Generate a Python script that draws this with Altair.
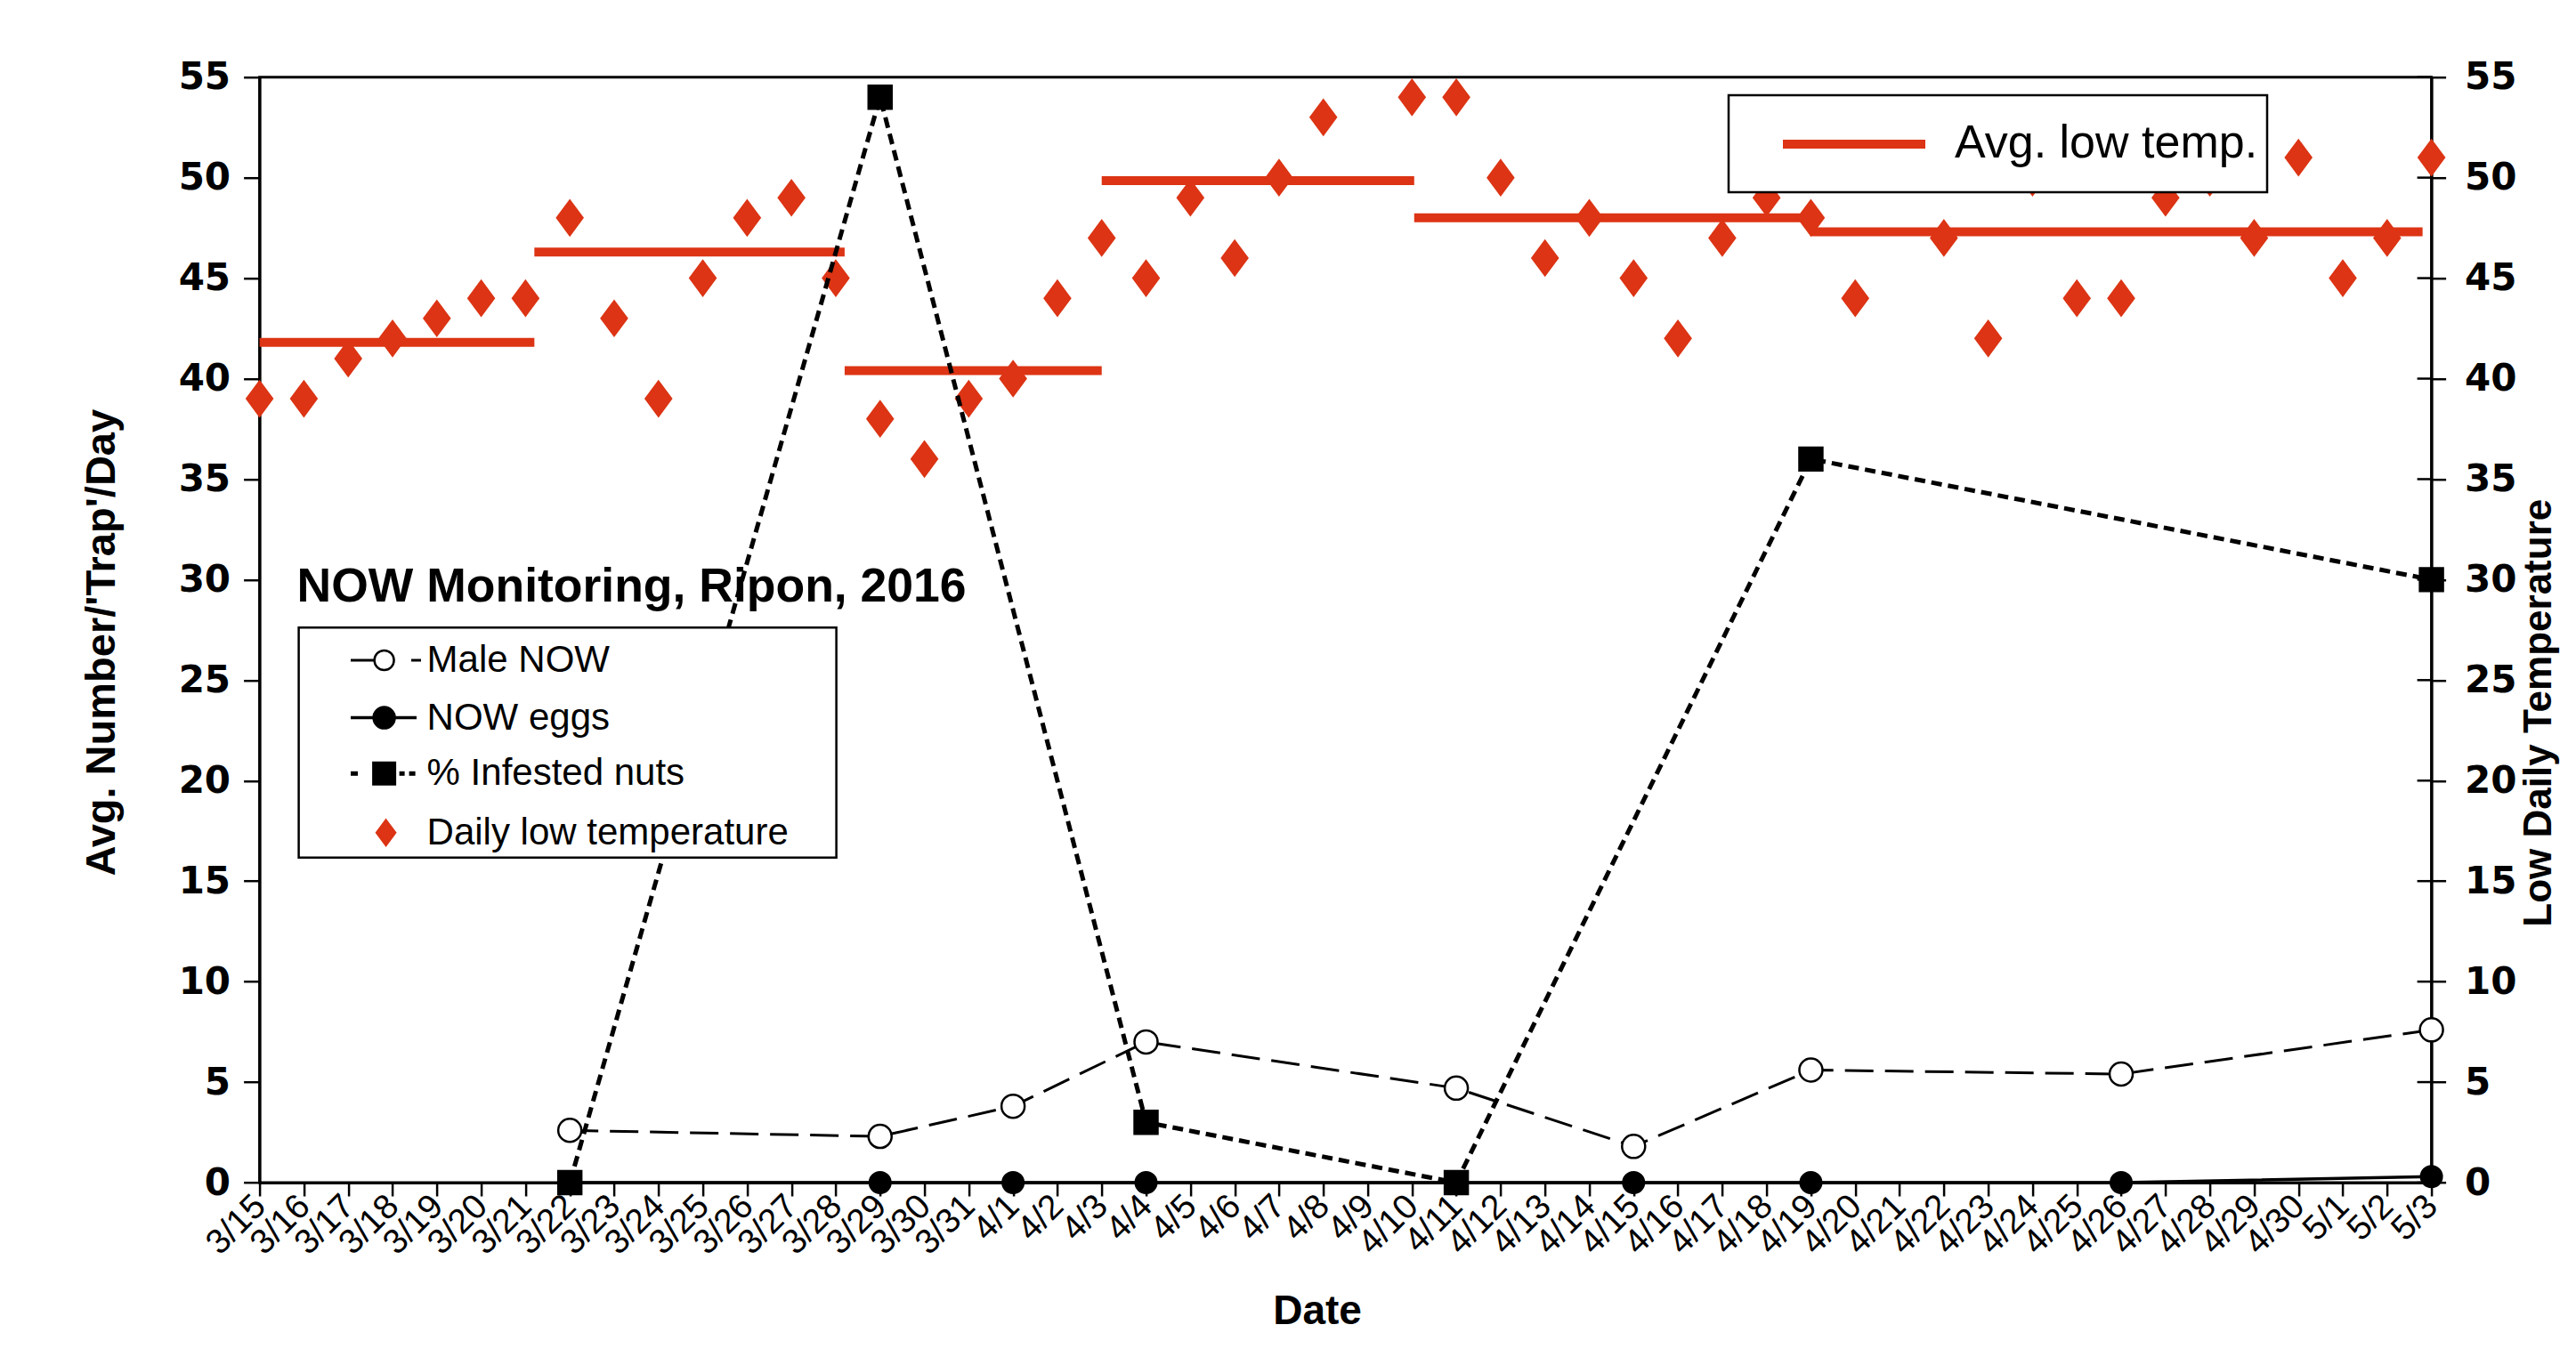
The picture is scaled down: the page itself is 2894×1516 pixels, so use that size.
import altair as alt
import pandas as pd

# ---------------- data ----------------
dates = ['3/15', '3/16', '3/17', '3/18', '3/19', '3/20', '3/21', '3/22', '3/23', '3/24',
         '3/25', '3/26', '3/27', '3/28', '3/29', '3/30', '3/31',
         '4/1', '4/2', '4/3', '4/4', '4/5', '4/6', '4/7', '4/8', '4/9', '4/10',
         '4/11', '4/12', '4/13', '4/14', '4/15', '4/16', '4/17', '4/18', '4/19', '4/20',
         '4/21', '4/22', '4/23', '4/24', '4/25', '4/26', '4/27', '4/28', '4/29', '4/30',
         '5/1', '5/2', '5/3']
daily_low = [39, 39, 41, 42, 43, 44, 44, 48, 43, 39, 45, 48, 49, 45, 38, 36, 39,
             40, 44, 47, 45, 49, 46, 50, 53, None, 54, 54, 50, 46, 48, 45, 42, 47, 49, 48,
             44, 51, 47, 42, 50, 44, 44, 49, 50, 47, 51,
             45, 47, 51]

sample_dates = ['3/22', '3/29', '4/1', '4/4', '4/11', '4/15', '4/19', '4/26', '5/3']
male_now = [2.6, 2.3, 3.8, 7.0, 4.7, 1.8, 5.6, 5.4, 7.6]
now_eggs = [0, 0, 0, 0, 0, 0, 0, 0, 0.3]

nut_dates = ['3/22', '3/29', '4/4', '4/11', '4/19', '5/3']
infested = [0, 54, 3, 0, 36, 30]

# average low temperature periods (start / end in days from 3/15)
avg_start = [0, 6.2, 13.2, 19.0, 26.05, 35.0]
avg_end = [6.2, 13.2, 19.0, 26.05, 35.0, 48.8]
avg_low = [41.8, 46.3, 40.4, 49.85, 48.0, 47.3]

y_ticks = [0, 5, 10, 15, 20, 25, 30, 35, 40, 45, 50, 55]

# ---------------- tables ----------------
day = {d: i for i, d in enumerate(dates)}
temp_df = pd.DataFrame({'day': list(range(len(dates))), 'value': daily_low}).dropna()
male_df = pd.DataFrame({'day': [day[d] for d in sample_dates], 'value': male_now})
eggs_df = pd.DataFrame({'day': [day[d] for d in sample_dates], 'value': now_eggs})
nuts_df = pd.DataFrame({'day': [day[d] for d in nut_dates], 'value': infested})
avg_df = pd.DataFrame({'day': avg_start, 'day2': avg_end, 'value': avg_low})
tick_df = pd.DataFrame({'value': y_ticks})
one = pd.DataFrame({'k': [0]})

# ---------------- styling ----------------
W, H = 2440, 1242.3
RED = '#dc3414'
DIAMOND = 'M0,-1.35L1,0L0,1.35L-1,0Z'
SANS = 'Liberation Sans'

label_expr = '[' + ','.join("'%s'" % d for d in dates) + '][datum.value]'
x_axis = alt.Axis(values=list(range(len(dates))), labelExpr=label_expr,
                  labelAngle=315, labelAlign='right', labelBaseline='middle',
                  labelFont=SANS, labelFontSize=39, labelPadding=5,
                  labelOverlap=False, labelFlush=False, tickSize=15,
                  title='Date', titleFont=SANS, titleFontSize=46, titleFontWeight='bold',
                  titleX=1188, titleY=158, titleBaseline='alphabetic', titleAlign='center',
                  grid=False)
x_scale = alt.Scale(domain=[0, len(dates) - 1], nice=False, zero=False)


def X(field='day'):
    return alt.X(field + ':Q', scale=x_scale, axis=x_axis)


y_scale = alt.Scale(domain=[0, 55], nice=False)
left_axis = alt.Axis(orient='left', values=y_ticks, labelFont='DejaVu Sans', labelFontWeight='bold',
                     labelFontSize=42, labelPadding=15, tickSize=18, grid=False,
                     title="Avg. Number/'Trap'/Day", titleFont=SANS, titleFontSize=47,
                     titleFontWeight='bold', titleAngle=270, titleX=-177, titleY=635,
                     titleAlign='center', titleBaseline='middle')
right_axis = alt.Axis(orient='right', values=y_ticks, labelFont='DejaVu Sans', labelFontWeight='bold',
                      labelFontSize=42, labelPadding=21, tickSize=16, grid=False,
                      title='Low Daily Temperature', titleFont=SANS, titleFontSize=44,
                      titleFontWeight='bold', titleAngle=270, titleX=99, titleY=714,
                      titleAlign='center', titleBaseline='top')

YL = alt.Y('value:Q', scale=y_scale, axis=left_axis)
YR = alt.Y('value:Q', scale=y_scale, axis=right_axis)

# ---------------- right (temperature) group ----------------
diamonds = alt.Chart(temp_df).mark_point(shape=DIAMOND, filled=True, fill=RED, stroke=None,
                                         size=1000, opacity=1).encode(x=X(), y=YR)
avg_lines = alt.Chart(avg_df).mark_rule(color=RED, strokeWidth=10).encode(
    x=X(), x2='day2:Q', y=YR)
inner_ticks = alt.Chart(tick_df).mark_rule(color='black', strokeWidth=2.5).encode(
    x=alt.value(W - 16), x2=alt.value(W), y=YR)
right_group = alt.layer(avg_lines, diamonds, inner_ticks)

# ---------------- left (counts) group ----------------
nuts_line = alt.Chart(nuts_df).mark_line(color='black', strokeWidth=5, strokeDash=[12, 7]).encode(
    x=X(), y=YL)
male_line = alt.Chart(male_df).mark_line(color='black', strokeWidth=3, strokeDash=[32, 13]).encode(
    x=X(), y=YL)
eggs_line = alt.Chart(eggs_df).mark_line(color='black', strokeWidth=3.5).encode(x=X(), y=YL)
eggs_pts = alt.Chart(eggs_df).mark_point(shape='circle', filled=True, fill='black', stroke='black',
                                         size=576, opacity=1).encode(x=X(), y=YL)
nuts_pts = alt.Chart(nuts_df).mark_point(shape='square', filled=True, fill='black', stroke='black',
                                         size=700, opacity=1).encode(x=X(), y=YL)
male_pts = alt.Chart(male_df).mark_point(shape='circle', filled=True, fill='white', stroke='black',
                                         strokeWidth=2.5, size=676, opacity=1).encode(x=X(), y=YL)
left_group = alt.layer(nuts_line, male_line, eggs_line, eggs_pts, nuts_pts, male_pts)


# ---------------- legends (drawn) ----------------
def box(x1, x2, y1, y2):
    return alt.Chart(one).mark_rect(fill='white', stroke='black', strokeWidth=2.5).encode(
        x=alt.value(x1), x2=alt.value(x2), y=alt.value(y1), y2=alt.value(y2))


def seg(x1, x2, y, width=3, color='black', dash=None):
    kw = dict(color=color, strokeWidth=width)
    if dash:
        kw['strokeDash'] = dash
    return alt.Chart(one).mark_rule(**kw).encode(x=alt.value(x1), x2=alt.value(x2), y=alt.value(y))


def sym(x, y, shape, size, fill, stroke=None, sw=2.5):
    kw = dict(shape=shape, size=size, filled=True, fill=fill, opacity=1, strokeWidth=sw)
    kw['stroke'] = stroke if stroke else fill
    return alt.Chart(one).mark_point(**kw).encode(x=alt.value(x), y=alt.value(y))


def txt(x, y, s, size, bold=False, baseline='middle'):
    return alt.Chart(one).mark_text(text=s, align='left', baseline=baseline, font=SANS,
                                    fontSize=size, fontWeight='bold' if bold else 'normal',
                                    color='black').encode(x=alt.value(x), y=alt.value(y))


legend_names = ['Male NOW', 'NOW eggs', '% Infested nuts', 'Daily low temperature']
rows = [655.3, 719.9, 782.6, 849.1]
leg = [
    txt(42, 589, 'NOW Monitoring, Ripon, 2016', 53.5, bold=True, baseline='alphabetic'),
    box(44, 648, 618.5, 877),
    # Male NOW
    seg(102.4, 128.4, rows[0], 3), seg(170.4, 181.4, rows[0], 3),
    sym(140, rows[0], 'circle', 484, 'white', 'black'),
    # NOW eggs
    seg(102.4, 176.4, rows[1], 3.5),
    sym(140, rows[1], 'circle', 576, 'black'),
    # % infested nuts
    seg(102.4, 110.4, rows[2], 5), seg(157, 163, rows[2], 5), seg(168, 175, rows[2], 5),
    sym(140, rows[2], 'square', 600, 'black'),
    # daily low temperature
    sym(142, rows[3], DIAMOND, 440, RED),
]
for name, ry in zip(legend_names, rows):
    leg.append(txt(188, ry, name, 42))

leg += [
    box(1650.4, 2255.4, 20.3, 129.3),
    seg(1711.4, 1871.4, 75.3, 10, color=RED),
    txt(1904.4, 74, 'Avg. low temp.', 52),
]

chart = alt.layer(right_group, left_group, *leg).resolve_scale(y='independent').properties(
    width=W, height=H,
    autosize=alt.AutoSizeParams(type='none'),
    padding={'left': 283.6, 'top': 78.7, 'right': 154.4, 'bottom': 173},
    background='white',
).configure_view(stroke='black', strokeWidth=3).configure_axis(
    domainColor='black', domainWidth=3, tickColor='black', tickWidth=2.5,
    labelColor='black', titleColor='black')

chart.save('out.html', embed_options={'renderer': 'svg', 'actions': False})
